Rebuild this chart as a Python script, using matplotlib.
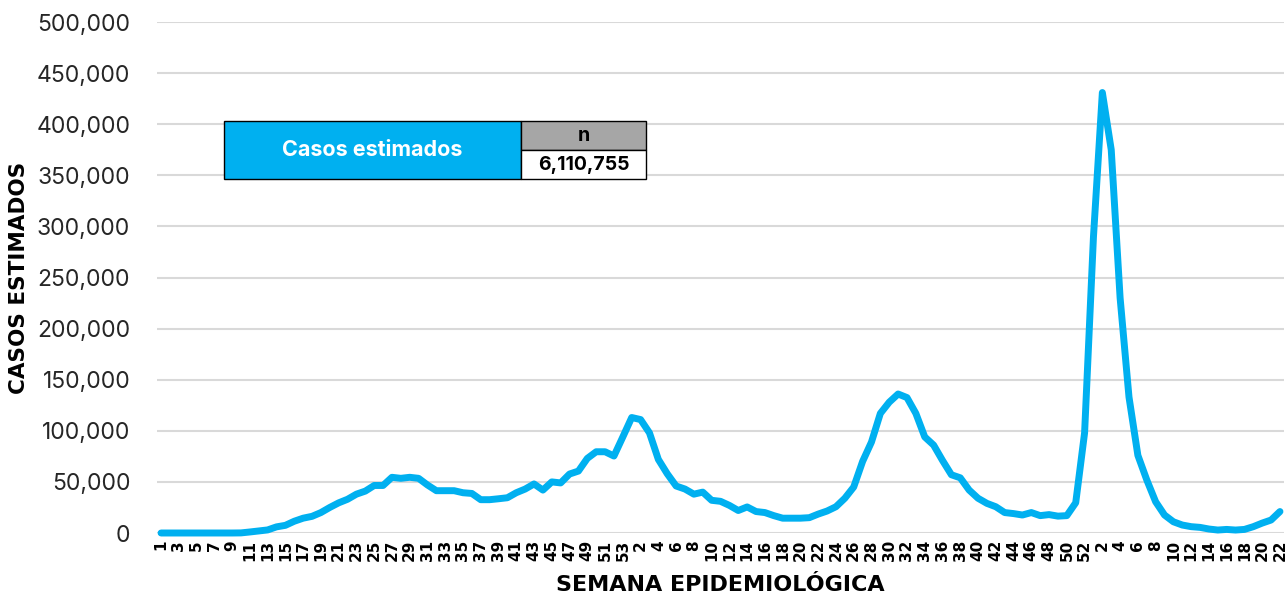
import matplotlib
matplotlib.use('Agg')
import matplotlib.pyplot as plt
from matplotlib.patches import Rectangle
from matplotlib.ticker import FuncFormatter

plt.rcParams['font.family'] = ['Inter', 'DejaVu Sans']

# semanas epidemiologicas: 2020 (1-53), 2021 (1-52), 2022 (1-22)
weeks_2020 = list(range(1, 54))
weeks_2021 = list(range(1, 53))
weeks_2022 = list(range(1, 23))

cases_2020 = [0, 0, 0, 0, 0, 0, 0, 0, 0, 100,
              1000, 2000, 3000, 6000, 7500, 11500, 14500, 16300, 20000, 25000,
              29500, 33000, 38000, 41000, 46500, 46500, 54500, 53500, 54500, 53500,
              47000, 41400, 41400, 41400, 39400, 38700, 32600, 32600, 33500, 34500,
              39400, 43000, 48000, 42000, 50000, 49000, 57700, 60600, 73000, 79500,
              79500, 75300, 94000]
cases_2021 = [113000, 111000, 98000, 72000, 58000, 46000, 43000, 38000, 40000, 32000,
              31000, 27000, 22000, 25500, 21000, 20000, 17000, 14500, 14500, 14500,
              15000, 18500, 21500, 25700, 34000, 45000, 70000, 89000, 117000, 128000,
              136000, 132500, 117000, 94000, 86000, 71000, 57000, 54000, 42000, 34000,
              29000, 25700, 20000, 19000, 17600, 20000, 17000, 18000, 16500, 17000,
              29600, 98000]
cases_2022 = [290000, 431000, 375000, 230000, 133000, 76000, 52000, 30600, 17600, 11000,
              7800, 6200, 5500, 3900, 2900, 3500, 2900, 3500, 6200, 9700,
              12700, 21000]

total_label = '6,110,755'

labels = [str(w) for w in weeks_2020 + weeks_2021 + weeks_2022]
cases = cases_2020 + cases_2021 + cases_2022
x = list(range(len(cases)))

fig = plt.figure(figsize=(12.88, 5.95), dpi=100)
ax = fig.add_axes([0.1216, 0.1042, 0.8756, 0.8588])

ax.plot(x, cases, color='#00B0F0', lw=5, solid_joinstyle='round',
        solid_capstyle='round', clip_on=False, zorder=3)

ax.set_xlim(-0.5, len(cases) - 0.5)
ax.set_ylim(0, 500000)
ax.set_yticks(range(0, 500001, 50000))
ax.yaxis.set_major_formatter(FuncFormatter(lambda v, p: f'{int(v):,}'))
ax.grid(axis='y', color='#D9D9D9', lw=1.5, zorder=0)
ax.set_axisbelow(True)

# etiqueta cada dos semanas
tick_pos = x[::2]
ax.set_xticks(tick_pos)
ax.set_xticklabels([labels[i] for i in tick_pos], rotation=90, fontsize=11,
                   fontweight='bold', va='top', ha='center', family='DejaVu Sans')
ax.tick_params(axis='x', length=0, pad=5, colors='black')
ax.tick_params(axis='y', length=0, pad=19, labelsize=16.5, colors='#262626')

for s in ax.spines.values():
    s.set_visible(False)

ax.set_xlabel('SEMANA EPIDEMIOLÓGICA', fontsize=16, fontweight='bold', labelpad=10,
              family='DejaVu Sans')
ax.set_ylabel('CASOS ESTIMADOS', fontsize=15.5, fontweight='bold', labelpad=5,
              family='DejaVu Sans')

# cuadro de total
W, H = 1288, 595
def fbox(x0, y0, x1, y1, color):
    r = Rectangle((x0 / W, 1 - y1 / H), (x1 - x0) / W, (y1 - y0) / H,
                  transform=fig.transFigure, facecolor=color, edgecolor='black',
                  lw=1, zorder=5)
    fig.patches.append(r)

fbox(224, 121, 521, 179, '#00B0F0')
fbox(521, 121, 646, 150, '#A6A6A6')
fbox(521, 150, 646, 179, 'white')
fig.text(372.5 / W, 1 - 150 / H, 'Casos estimados', color='white', fontsize=15.5,
         fontweight='bold', ha='center', va='center', zorder=10)
fig.text(583.5 / W, 1 - 136 / H, 'n', color='black', fontsize=14,
         fontweight='bold', ha='center', va='center', zorder=10)
fig.text(583.5 / W, 1 - 165 / H, total_label, color='black', fontsize=14,
         fontweight='bold', ha='center', va='center', zorder=10)

fig.savefig('out.png', dpi=100)
